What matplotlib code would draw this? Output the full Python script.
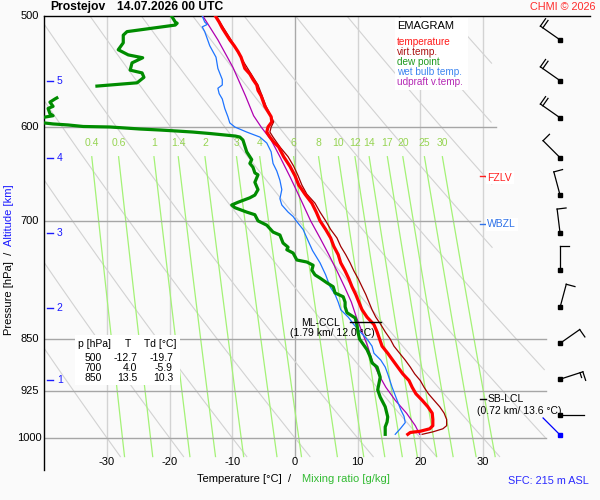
import numpy as np
import matplotlib.pyplot as plt
from matplotlib.patches import Rectangle

plt.rcParams['font.family'] = ['Liberation Sans', 'DejaVu Sans']

# --- profil (tlak hPa, teplota degC) ---
temp_p = [500, 505, 510, 515, 520, 525, 530, 535, 540, 545, 550, 555, 560, 565, 570,
          575, 580, 585, 590, 595, 600, 605, 610, 615, 620, 625, 630, 640, 650, 660,
          670, 680, 690, 700, 710, 720, 730, 740, 750, 760, 770, 780, 790, 800, 810,
          820, 830, 840, 850, 860, 870, 880, 890, 900, 910, 920, 930, 940, 950, 960,
          970, 980, 985, 989, 991, 994]
temp_t = [-12.7, -12.1, -11.6, -11.0, -10.4, -9.7, -9.1, -8.6, -8.3, -8.0, -7.2, -6.7, -6.1, -5.9, -5.4,
          -5.1, -4.8, -4.3, -3.8, -3.7, -4.3, -4.5, -4.0, -3.4, -2.6, -2.2, -1.8, -0.8, 0.0, 0.6,
          1.6, 2.7, 3.4, 4.0, 4.9, 5.7, 6.2, 6.9, 7.3, 8.0, 8.6, 9.1, 9.7, 10.2, 10.7,
          11.5, 12.6, 13.1, 13.5, 13.9, 14.8, 15.6, 16.4, 17.2, 18.2, 18.7, 19.3, 20.3, 21.2, 21.9,
          22.0, 22.0, 21.5, 20.0, 18.4, 18.0]

tv_p = [500, 520, 540, 560, 580, 595, 600, 605, 610, 620, 630, 640, 650, 660, 670,
        680, 690, 700, 710, 720, 730, 740, 750, 760, 770, 780, 790, 800, 810, 820,
        830, 840, 850, 860, 870, 880, 890, 900, 910, 920, 930, 940, 950, 960, 970,
        980, 985, 990, 994]
tv_t = [-12.6, -10.2, -8.1, -5.9, -4.6, -3.4, -3.8, -4.0, -3.5, -2.4, -1.1, -0.2, 0.5, 1.1, 1.9,
        3.2, 4.0, 4.9, 5.7, 6.7, 7.3, 8.1, 8.8, 9.4, 10.1, 10.7, 11.3, 11.8, 12.3, 12.9,
        13.7, 14.4, 15.2, 15.8, 16.7, 17.6, 18.4, 19.1, 20.0, 20.6, 21.3, 22.2, 23.1, 23.8, 24.2,
        24.2, 23.6, 22.0, 20.3]

nan = np.nan
dew_p = [500, 505, 506, 507.5, 513, 516, 522.5, 528.5, 533, 535.5, 540, 546.5, 549, 553, 558, 561, nan,
         572, 573, 576, 580, 582, 587, 589, 590, 592, 595, 597, 598, 599.5, 600, 602, 603, 604, 605,
         606.5, 609, 610, 613, 625, 633, 637, 641, 647, 649, 657, 665, 671, 674, 679, 682, 685,
         690, 693, 700, 705, 713, 716.5, 726, 731, 734, 738, 746.5, 749, 753, 759, 765, 769,
         775, 780, 788, 793, 800, 806, 814, 821, 831, 842, 850, 865, 875, 884, 890, 905, 924,
         935, 950, 966, 974, 982, 994]
dew_t = [-19.7, -19.1, -18.8, -19.1, -26.8, -27.4, -27.4, -28.2, -26.6, -24.3, -26.0, -26.3, -24.4, -24.1, -25.2, -31.6, nan,
         -38.0, -38.3, -39.1, -38.6, -39.4, -39.1, -38.6, -39.6, -41.5, -41.5, -38.6, -36.2, -33.8, -29.5, -24.7, -21.5, -18.8, -16.3,
         -13.5, -9.5, -8.8, -8.3, -7.7, -6.9, -7.2, -6.7, -6.4, -5.9, -6.4, -5.9, -6.4, -7.2, -9.1, -10.1, -9.6,
         -7.7, -6.4, -5.9, -4.5, -3.5, -2.4, -1.9, -1.1, -1.3, -0.3, 0.3, 1.9, 2.9, 2.7, 3.2, 4.0,
         5.1, 6.1, 6.4, 7.7, 8.0, 8.0, 8.3, 9.6, 9.9, 10.1, 10.3, 11.5, 12.0, 12.3, 13.1, 13.6, 13.2,
         13.6, 14.4, 14.8, 14.7, 14.4, 14.4]

wb_p = [500, 505, 507, 509, 513, 525, 530, 535, 545, 555, 560, 563, 568, 573, 582,
        590, 596, 600, 605, 610, 616, 625, 637, 645, 655, 665, 675, 682, 690, 695,
        700, 710, 720, 735, 750, 765, 780, 790, 800, 810, 820, 830, 840, 850, 860,
        870, 880, 890, 900, 920, 940, 955, 965, 975, 985, 994]
wb_t = [-14.8, -14.4, -14.0, -14.8, -14.4, -13.6, -13.1, -12.6, -12.3, -11.6, -11.6, -12.3, -12.1, -11.6, -11.2,
        -10.7, -10.4, -9.6, -7.7, -5.6, -4.5, -3.8, -3.5, -2.9, -2.4, -2.1, -2.4, -2.1, -1.1, -0.3,
        0.2, 1.3, 1.9, 2.8, 4.0, 4.9, 5.6, 6.4, 6.9, 7.3, 8.5, 9.4, 10.4, 11.5, 12.3,
        12.6, 13.7, 14.4, 14.8, 15.5, 16.3, 16.9, 17.4, 17.6, 16.8, 16.0]

up_p = [500, 520, 544, 570, 589, 600, 613, 630, 651, 674, 700, 720, 740, 760, 780,
        800, 820, 840, 860, 880, 900, 920, 940, 960, 980, 994]
up_t = [-14.7, -12.3, -9.9, -7.9, -6.6, -5.4, -3.8, -2.4, -0.8, 0.8, 2.5, 4.0, 5.4, 6.7, 7.9,
        9.0, 9.8, 10.7, 11.6, 12.3, 13.3, 14.5, 16.0, 17.8, 19.2, 19.9]

# vitr (smer deg, rychlost kt) po 0.5 km
wind_p = [520, 556, 591, 631, 671, 714, 759, 807, 856, 908, 963]
wind_dir = [305, 305, 305, 315, 345, 353, 360, 15, 55, 72, 90]
wind_spd = [20, 20, 20, 10, 10, 10, 10, 10, 10, 15, 2]
sfc_p, sfc_dir, sfc_spd = 995, 315, 2

alt_km = [1, 2, 3, 4, 5]
alt_p = [909, 808, 714, 631, 556]

table_p = [500, 700, 850]
table_t = [-12.7, 4.0, 13.5]
table_td = [-19.7, -5.9, 10.3]

fzlv_p, wbzl_p = 650, 704
ccl_p, ccl_t1, ccl_t2 = 826, 8.8, 13.7
lcl_p = 938

mix_w = [0.4, 0.6, 1, 1.4, 2, 3, 4, 6, 8, 10, 12, 14, 17, 20, 25, 30]
isobars = {600: 32, 700: 29.5, 850: 40, 925: 40, 1000: 40}

BG = '#fafafa'
fig = plt.figure(figsize=(6, 5), dpi=100, facecolor=BG)
ax = fig.add_axes([44.3 / 600, 30 / 500, 545.2 / 600, 454 / 500])
ax.set_facecolor(BG)
ax.set_yscale('log')
ax.set_xlim(-40, 47)
ax.set_ylim(1054, 500)
ax.tick_params(which='both', left=False, labelleft=False, bottom=False, labelbottom=False)
for s in ['right', 'bottom']:
    ax.spines[s].set_visible(False)
ax.spines['left'].set_linewidth(1.0)
ax.spines['top'].set_linewidth(1.0)

# izotermy
for t in range(-30, 31, 10):
    ax.plot([t, t], [500, 1031], color='#a9a9a9' if t == 0 else '#d3d3d3', lw=1, zorder=1)

# suche adiabaty
pp = np.geomspace(500, 1031, 300)
for th in range(-30, 100, 10):
    tt = (th + 273.15) * (pp / 1000) ** 0.286 - 273.15
    tt = np.where(((tt > 31.5) & (pp < 815)) | (tt > 40), np.nan, tt)
    ax.plot(tt, pp, color='#d2d2d2', lw=0.8, zorder=1)

# smesovaci pomer
pm = np.geomspace(630, 1031, 60)
for w in mix_w:
    lg = np.log(pm * w / (622 + w) / 6.112)
    td = 243.5 * lg / (17.67 - lg)
    ax.plot(td, pm, color='#a4f276', lw=0.9, zorder=1)
    ax.text(td[0], 616, f"{w:g}", ha='center', va='center', color='#96d452', fontsize=7.5)

for p, tend in isobars.items():
    ax.plot([-40, tend], [p, p], color='#a6a6a6', lw=1, zorder=1.5)

# krivky
ax.plot(up_t, up_p, color='#b000b0', lw=0.9, zorder=3)
ax.plot(wb_t, wb_p, color='#1e74ff', lw=0.9, zorder=3)
ax.plot(dew_t, dew_p, color='#008c00', lw=2.3, zorder=3)
ax.plot(tv_t, tv_p, color='#a00000', lw=0.9, zorder=3)
ax.plot(temp_t, temp_p, color='#ff0000', lw=2.3, zorder=3)

# popisky os
for p in [500, 600, 700, 850, 925, 1000]:
    ax.text(-42.3, p, str(p), ha='center', va='center', fontsize=8, clip_on=False)
for t in range(-30, 31, 10):
    ax.text(t, 1040, str(t), ha='center', va='center', fontsize=8)
for km, p in zip(alt_km, alt_p):
    ax.plot([-39.6, -38.6], [p, p], color='#1a1aff', lw=1, zorder=4)
    ax.text(-38.0, p, str(km), ha='left', va='center', color='#1a1aff', fontsize=7.5)

# hladiny
ax.plot([29.5, 30.5], [fzlv_p, fzlv_p], color='#ff2020', lw=1, zorder=4)
ax.text(30.7, fzlv_p + 2, 'FZLV', ha='left', va='center', color='#ff2020', fontsize=7.5,
        bbox=dict(facecolor='white', edgecolor='none', pad=1.2), zorder=4)
ax.plot([29.5, 30.5], [wbzl_p, wbzl_p], color='#2f72e8', lw=1, zorder=4)
ax.text(30.7, wbzl_p, 'WBZL', ha='left', va='center', color='#2f72e8', fontsize=7.5,
        bbox=dict(facecolor='white', edgecolor='none', pad=1.2), zorder=4)

ax.plot([ccl_t1, ccl_t2], [ccl_p, ccl_p], color='black', lw=1, zorder=4)
ax.text(7.2, ccl_p + 2, 'ML-CCL', ha='right', va='center', fontsize=7.5, zorder=5)
ax.text(5.9, ccl_p + 16, '(1.79 km/ 12.0 \u00b0C)', ha='center', va='center', fontsize=7.5, zorder=5)
ax.plot([29.5, 30.5], [lcl_p, lcl_p], color='black', lw=1, zorder=4)
ax.text(30.7, lcl_p, 'SB-LCL', ha='left', va='center', fontsize=7.5, zorder=5)
ax.text(29.0, lcl_p + 18.5, '(0.72 km/ 13.6 \u00b0C)', ha='left', va='center', fontsize=7.5, zorder=5)

# overlay v pixelech
ov = fig.add_axes([0, 0, 1, 1], zorder=5)
ov.set_xlim(0, 600)
ov.set_ylim(500, 0)
ov.axis('off')
ov.patch.set_visible(False)


def barb(p, direction, speed, color):
    xd, yd = ax.transData.transform((42.3, p))
    bx, by = xd, 500 - yd
    d = np.radians(direction)
    ux, uy = np.sin(d), -np.cos(d)
    L = 24
    tx, ty = bx + L * ux, by + L * uy
    ov.plot([bx, tx], [by, ty], color=color, lw=0.9)
    fx, fy = -uy, ux
    full = int(speed // 10)
    half = (speed % 10) >= 5
    pos = 0
    for i in range(full):
        sx, sy = tx - pos * ux, ty - pos * uy
        ov.plot([sx, sx + 9 * fx], [sy, sy + 9 * fy], color=color, lw=0.9)
        pos += 3
    if half:
        sx, sy = tx - pos * ux, ty - pos * uy
        ov.plot([sx, sx + 5 * fx], [sy, sy + 5 * fy], color=color, lw=0.9)
    ov.plot(bx, by, 's', ms=2.6, color=color)


for p, dr, sp in zip(wind_p, wind_dir, wind_spd):
    barb(p, dr, sp, 'black')
barb(sfc_p, sfc_dir, sfc_spd, '#0000ff')

# legenda
ov.add_patch(Rectangle((395, 18), 73, 72, facecolor='white', edgecolor='none'))
ov.text(397, 26, 'EMAGRAM', ha='left', va='center', fontsize=8)
leg = [('temperature', '#ff1a1a'), ('virt.temp.', '#aa1111'), ('dew point', '#1f9a1f'),
       ('wet bulb temp.', '#3d85f0'), ('udpraft v.temp.', '#b52ab5')]
for i, (txt, c) in enumerate(leg):
    ov.text(397, 42 + 10 * i, txt, ha='left', va='center', color=c, fontsize=7.2)

# tabulka
ov.add_patch(Rectangle((75, 335), 105, 50, facecolor='white', edgecolor='none'))
ov.text(78, 344, 'p [hPa]', ha='left', va='center', fontsize=7.5)
ov.text(128, 344, 'T', ha='center', va='center', fontsize=7.5)
ov.text(144, 344, 'Td [\u00b0C]', ha='left', va='center', fontsize=7.5)
for i, (p, t, td) in enumerate(zip(table_p, table_t, table_td)):
    y = 358 + 10 * i
    ov.text(102, y, f"{p}", ha='right', va='center', fontsize=7.5)
    ov.text(137, y, f"{t:.1f}", ha='right', va='center', fontsize=7.5)
    ov.text(173, y, f"{td:.1f}", ha='right', va='center', fontsize=7.5)

# titulky
ov.text(50, 7, 'Prostejov', ha='left', va='center', fontsize=8.7, fontweight='bold')
ov.text(117, 7, '14.07.2026 00 UTC', ha='left', va='center', fontsize=8.7, fontweight='bold')
ov.text(596, 7, 'CHMI \u00a9 2026', ha='right', va='center', color='#ff2a2a', fontsize=7.8)
ov.text(9, 252, 'Pressure [hPa]  /', rotation=90, ha='center', va='top', fontsize=8)
ov.text(9, 246, 'Altitude [km]', rotation=90, ha='center', va='bottom', color='#1a1aff', fontsize=8)
ov.text(197, 479, 'Temperature [\u00b0C]  /', ha='left', va='center', fontsize=8)
ov.text(302, 479, 'Mixing ratio [g/kg]', ha='left', va='center', color='#33bb33', fontsize=8)
ov.text(589, 481, 'SFC: 215 m ASL', ha='right', va='center', color='#2a2aff', fontsize=7.8)

fig.savefig('out.png', dpi=100, facecolor=BG)
